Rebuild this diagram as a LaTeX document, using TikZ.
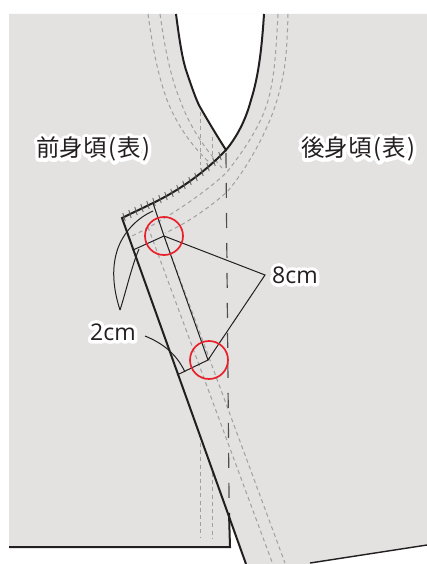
\documentclass[tikz,border=0pt]{standalone}
\usepackage{fontspec}
\setmainfont{Open Sans}
\newfontfamily\jp{Noto Sans CJK JP}
\newfontfamily\jphalo[FakeBold=30]{Noto Sans CJK JP}
\newfontfamily\lathalo[FakeBold=30]{Open Sans}
\newcommand{\jplabel}[1]{\special{pdf:code 1 j 1 J}\fontsize{23.5}{26}\selectfont\rlap{\jphalo\color{white}#1}{\jp #1}}
\newcommand{\latlabel}[1]{\special{pdf:code 1 j 1 J}\fontsize{23}{26}\selectfont\rlap{\lathalo\color{white}#1}#1}
\definecolor{cloth}{HTML}{E3E2E1}
\definecolor{stitch}{HTML}{A0A0A3}
\definecolor{ink}{HTML}{231F20}
\definecolor{ringred}{HTML}{E8202A}
\tikzset{
  every node/.style={inner sep=0pt,text=ink},
  stitchline/.style={draw=stitch,line width=1pt,dash pattern=on 4pt off 3.2pt},
  outline/.style={draw=ink,line width=2pt},
  thinline/.style={draw=ink,line width=1pt},
  centerline/.style={draw=ink!80,line width=1.2pt,dash pattern=on 15pt off 15pt},
  ring/.style={draw=ringred,line width=1.7pt},
  tack/.style={draw=ink!70,line width=0.9pt}
}
\begin{document}
\begin{tikzpicture}[x=1pt,y=-1pt]
\useasboundingbox (0,0) rectangle (427,564);
% cloth
\fill[cloth] (9,14) -- (427,14) -- (427,545) -- (310,564) -- (246,564) -- (230,520) -- (230,547) -- (9,547) -- cycle;
% neck opening
\fill[white] (176,14) .. controls (180,45) and (183,62) .. (187,73)
  .. controls (192,88) and (197,102) .. (200,107)
  .. controls (208,121) and (217,136) .. (226,150)
  .. controls (240,133) and (247,115) .. (251,100)
  .. controls (259,75) and (262,45) .. (264,14) -- cycle;
% stitching
\draw[stitchline] (148,14) .. controls (153,50) and (158,75) .. (167,100)
  .. controls (175,120) and (188,143) .. (211,164);
\draw[stitchline] (160,14) .. controls (165,50) and (171,78) .. (180,100)
  .. controls (188,122) and (200,143) .. (222,168);
\draw[stitchline] (278,14) .. controls (276,50) and (275,70) .. (270,93)
  .. controls (264,120) and (248,145) .. (227,172)
  .. controls (212,187) and (170,218) .. (128,238);
\draw[stitchline] (288,14) .. controls (287,50) and (286,70) .. (277,100)
  .. controls (270,125) and (250,165) .. (227,192)
  .. controls (212,205) and (190,222) .. (165,233);
\draw[stitchline] (200,112) -- (200,165);
\draw[stitchline] (212,137) -- (212,157);
\draw[stitchline] (200,443) -- (200,538);
\draw[stitchline] (212,473) -- (212,538);
\draw[stitchline] (148,227) -- (272,562);
\draw[stitchline] (164,236) -- (285,563);
% centre line
\draw[centerline] (226,153) -- (229,498);
% outlines
\coordinate (neckL) at (176,14);
\coordinate (neckR) at (264,14);
\coordinate (neckV) at (226,150);
\coordinate (corner) at (122,218);
\coordinate (hem) at (246,564);
\draw[outline] (neckL) .. controls (180,45) and (183,62) .. (187,73)
  .. controls (192,88) and (197,102) .. (200,107)
  .. controls (208,121) and (217,136) .. (neckV)
  .. controls (240,133) and (247,115) .. (251,100)
  .. controls (259,75) and (262,45) .. (neckR);
\draw[outline] (neckV) .. controls (205,172) and (180,190) .. (153,203)
  .. controls (143,208) and (132,213) .. (corner) -- (hem);
\draw[outline] (229,513) -- (230,547) -- (9,547);
\draw[outline,line width=1.4pt] (310,563) -- (427,545);
% tacks along the neck seam
\foreach \x/\y in {124/217,130/214,136/211,142/208,148/205,154/202,160/199,166/196,172/193,178/189,184/185,190/181,196/177,202/172,208/167,214/162,220/156}
  \draw[tack] (\x-1.2,\y-4) -- (\x+1.2,\y+4);
% square-off
\coordinate (a) at (164,236);
\coordinate (b) at (208,360);
\coordinate (top) at (153,203);
\coordinate (l1) at (133,250);
\coordinate (l2) at (177,375);
\draw[thinline] (top) -- (a) -- (b) -- (l2);
\draw[thinline] (a) -- (l1);
% leaders
\coordinate (tip1) at (120,310);
\coordinate (tip8) at (265,275);
\draw[thinline] (tip1) .. controls (112,285) and (112,265) .. (118,248) .. controls (124,232) and (137,218) .. (153,211);
\draw[thinline] (tip1) .. controls (125,295) and (132,265) .. (139,249);
\draw[thinline] (145,336) .. controls (162,343) and (176,353) .. (185,372);
\draw[thinline] (a) -- (tip8) -- (b);
% rings
\draw[ring] (a) circle (19);
\draw[ring] (209,360) circle (19);
% labels
\node[anchor=west] (front) at (36,149) {\jplabel{前身頃\kern2pt(\kern1pt表\kern1pt)}};
\node[anchor=west] (back) at (301,149) {\jplabel{後身頃\kern2pt(\kern1pt表\kern1pt)}};
\node[anchor=west] (eight) at (272,275) {\latlabel{8cm}};
\node[anchor=west] (two) at (90,332) {\latlabel{2cm}};
\end{tikzpicture}
\end{document}
